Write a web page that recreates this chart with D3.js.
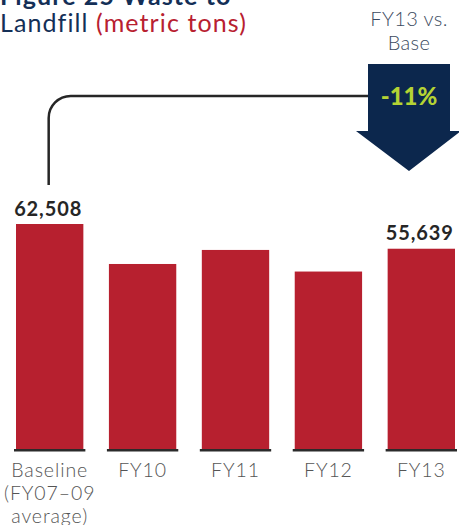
<!DOCTYPE html>
<html>
<head>
<meta charset="utf-8">
<script src="https://cdn.jsdelivr.net/npm/d3@7"></script>
<style>
  html, body { margin: 0; padding: 0; background: #fff; }
  svg { display: block; font-family: Lato, "Open Sans", sans-serif; }
</style>
</head>
<body>
<svg id="chart" width="459" height="525"></svg>
<script>
const categories = ["Baseline", "FY10", "FY11", "FY12", "FY13"];
const categoryLines = [["Baseline", "(FY07\u201309", "average)"], ["FY10"], ["FY11"], ["FY12"], ["FY13"]];
const values = [62508, 51400, 55300, 49300, 55639];
const valueLabels = ["62,508", null, null, null, "55,639"];
const titleLines = ["Figure 25 Waste to", "Landfill", "(metric tons)"];
const changeLabel = "-11%";
const changeCaption = ["FY13 vs.", "Base"];

const svg = d3.select("#chart");
const bottom = 449;

const rows = categories.map((c, i) => ({ cat: c, value: values[i], label: valueLabels[i], lines: categoryLines[i] }));

const x = d3.scaleBand().domain(categories).range([16, 455]).paddingInner(0.275).paddingOuter(0);
const y = d3.scaleLinear().domain([0, 62508]).range([bottom, 224]);

// title
svg.append("text").attr("x", 0).attr("y", 5)
  .attr("font-size", 25).attr("font-weight", 700).attr("fill", "#142f57")
  .attr("letter-spacing", 1.1)
  .text(titleLines[0]);
const t2 = svg.append("text").attr("x", 0).attr("y", 32).attr("font-size", 25).attr("letter-spacing", 1.1);
t2.append("tspan").attr("fill", "#142f57").text(titleLines[1] + " ");
t2.append("tspan").attr("fill", "#b82030").text(titleLines[2]);

// bars
svg.selectAll("rect.bar").data(rows).enter().append("rect")
  .attr("class", "bar")
  .attr("x", d => x(d.cat))
  .attr("width", x.bandwidth())
  .attr("y", d => y(d.value))
  .attr("height", d => bottom - y(d.value))
  .attr("fill", "#b7202f");

// base underline segments
svg.selectAll("rect.base").data(rows).enter().append("rect")
  .attr("class", "base")
  .attr("x", d => x(d.cat) - 2)
  .attr("width", x.bandwidth() + 4)
  .attr("y", bottom)
  .attr("height", 2.5)
  .attr("fill", "#2b2b2b");

// value labels
svg.selectAll("text.val").data(rows.filter(d => d.label)).enter().append("text")
  .attr("class", "val")
  .attr("x", d => x(d.cat) + x.bandwidth() / 2 - 1.5)
  .attr("y", d => y(d.value) - 8.5)
  .attr("text-anchor", "middle")
  .attr("font-size", 20).attr("font-weight", 700).attr("fill", "#262626")
  .attr("letter-spacing", 0.9)
  .text(d => d.label);

// category labels
rows.forEach(d => {
  const cx = x(d.cat) + x.bandwidth() / 2;
  const t = svg.append("text")
    .attr("x", cx)
    .attr("y", 477)
    .attr("text-anchor", "middle")
    .attr("font-size", 19.5).attr("font-weight", 300).attr("fill", "#555")
    .attr("letter-spacing", 0.9);
  d.lines.forEach((ln, j) => {
    t.append("tspan").attr("x", cx).attr("dy", j === 0 ? 0 : 23).text(ln);
  });
});

// connector line
const cx0 = x(categories[0]) + x.bandwidth() / 2 - 1;
const lineY = 96, r = 22;
const arrowCx = x(categories[4]) + x.bandwidth() / 2 - 10;
const path = d3.path();
path.moveTo(cx0, 185);
path.lineTo(cx0, lineY + r);
path.arcTo(cx0, lineY, cx0 + r, lineY, r);
path.lineTo(arrowCx, lineY);
svg.append("path").attr("d", path.toString())
  .attr("fill", "none").attr("stroke", "#262626").attr("stroke-width", 2.5);

// arrow
const ac = 409;
const arrowPts = [
  [ac - 41, 64], [ac + 41, 64], [ac + 41, 131], [ac + 52, 131],
  [ac, 171], [ac - 53, 131], [ac - 41, 131]
];
svg.append("polygon")
  .attr("points", arrowPts.map(p => p.join(",")).join(" "))
  .attr("fill", "#0c274d");
svg.append("text").attr("x", ac).attr("y", 105)
  .attr("text-anchor", "middle").attr("font-size", 24).attr("font-weight", 900)
  .attr("fill", "#b5d334").text(changeLabel);

// caption
changeCaption.forEach((ln, j) => {
  svg.append("text").attr("x", ac).attr("y", 26 + j * 24)
    .attr("text-anchor", "middle").attr("font-size", 20).attr("font-weight", 300)
    .attr("fill", "#3b4a60").attr("letter-spacing", 0.4).text(ln);
});
</script>
</body>
</html>
